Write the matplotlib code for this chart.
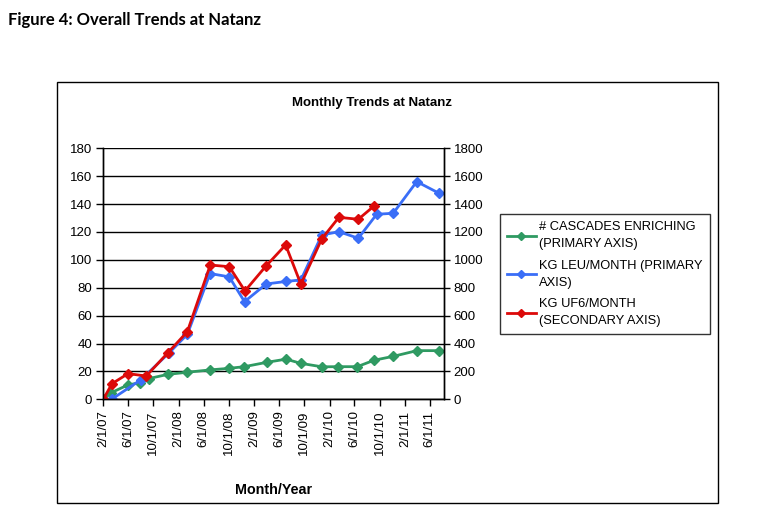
import matplotlib
matplotlib.use('Agg')
import matplotlib.pyplot as plt
from matplotlib.patches import Rectangle
import datetime as dt

plt.rcParams['font.family'] = 'Liberation Sans'

# data
cascade_dates = ['2007-02-01', '2007-03-11', '2007-05-31', '2007-07-30', '2007-09-08',
                 '2007-12-11', '2008-03-14', '2008-07-03', '2008-10-02', '2008-12-15',
                 '2009-04-02', '2009-07-05', '2009-09-14', '2009-12-26', '2010-03-15',
                 '2010-06-15', '2010-09-04', '2010-12-06', '2011-03-31', '2011-07-17']
cascades = [0, 4.7, 10.3, 11.9, 14.8, 17.9, 19.4, 21.1, 22.2, 23.4,
            26.5, 28.8, 25.8, 23.3, 23.4, 23.4, 28, 30.8, 34.9, 34.9]

leu_dates = ['2007-03-13', '2007-08-02', '2007-12-16', '2008-03-14', '2008-07-02',
             '2008-10-03', '2008-12-16', '2009-03-31', '2009-07-04', '2009-09-15',
             '2009-12-25', '2010-03-18', '2010-06-20', '2010-09-17', '2010-12-06',
             '2011-03-30', '2011-07-17']
leu = [0, 14, 33.2, 46.6, 90.2, 87.8, 70, 82.7, 84.5, 85.6,
       117.8, 120.2, 115.5, 132.7, 133.4, 156.1, 147.7]

uf6_dates = ['2007-02-01', '2007-03-15', '2007-06-01', '2007-08-28', '2007-12-11',
             '2008-03-14', '2008-07-03', '2008-10-03', '2008-12-18', '2009-03-30',
             '2009-07-03', '2009-09-15', '2009-12-25', '2010-03-18', '2010-06-20',
             '2010-09-04']
uf6 = [0, 112, 184, 167, 334, 485, 963, 951, 777, 956,
       1107, 825, 1150, 1305, 1291, 1386]

tick_dates = ['2007-02-01', '2007-06-01', '2007-10-01', '2008-02-01', '2008-06-01',
              '2008-10-01', '2009-02-01', '2009-06-01', '2009-10-01', '2010-02-01',
              '2010-06-01', '2010-10-01', '2011-02-01', '2011-06-01']

labels = ['# CASCADES ENRICHING\n(PRIMARY AXIS)',
          'KG LEU/MONTH (PRIMARY\nAXIS)',
          'KG UF6/MONTH\n(SECONDARY AXIS)']


def to_dates(lst):
    return [dt.datetime.strptime(s, '%Y-%m-%d') for s in lst]


green = '#2f9a62'
blue = '#3a6ef7'
red = '#dc0a0a'

fig = plt.figure(figsize=(7.61, 5.21), dpi=100)
W, H = 761, 521

# outer chart border
fig.patches.append(Rectangle((57.3 / W, 1 - 503 / H), (718 - 57.3) / W, (503 - 81.7) / H,
                             transform=fig.transFigure, fill=False, edgecolor='black', lw=1))

ax = fig.add_axes([103.3 / W, 1 - 399.3 / H, (444 - 103.3) / W, (399.3 - 148.3) / H])
ax2 = ax.twinx()

l1, = ax.plot(to_dates(cascade_dates), cascades, color=green, lw=2, marker='D', ms=5)
l2, = ax.plot(to_dates(leu_dates), leu, color=blue, lw=2, marker='D', ms=5)
l3, = ax2.plot(to_dates(uf6_dates), uf6, color=red, lw=2, marker='D', ms=5)

start = dt.datetime(2007, 2, 1)
ax.set_xlim(start, start + dt.timedelta(days=1650))
ax.set_ylim(0, 180)
ax2.set_ylim(0, 1800)
ax.set_yticks(range(0, 181, 20))
ax2.set_yticks(range(0, 1801, 200))

ticks = to_dates(tick_dates)
ax.set_xticks(ticks)
ax.set_xticklabels([f'{d.month}/{d.day}/{d:%y}' for d in ticks], rotation=90, fontsize=9.5)
ax.xaxis.set_minor_locator(plt.NullLocator())

ax.grid(axis='y', color='black', lw=1)
ax.set_axisbelow(True)
for a in (ax, ax2):
    for s in a.spines.values():
        s.set_linewidth(1)
ax.spines['top'].set_visible(False)
ax2.spines['top'].set_visible(False)
ax.tick_params(axis='y', labelsize=9.5, length=5, width=1, direction='out', pad=3)
ax.tick_params(axis='x', length=5, width=1, direction='out', pad=3)
ax2.tick_params(axis='y', labelsize=9.5, length=4, width=1, direction='out', pad=3)

fig.text(372 / W, 1 - 103 / H, 'Monthly Trends at Natanz', ha='center', va='center',
         fontsize=9.5, fontweight='bold')
fig.text(274 / W, 1 - 490.5 / H, 'Month/Year', ha='center', va='center',
         fontsize=10.3, fontweight='bold')
fig.text(8 / W, 1 - 20 / H, 'Figure 4: Overall Trends at Natanz', ha='left', va='center',
         fontsize=12, fontweight='bold', family='Lato')

leg = fig.legend([l1, l2, l3], labels, loc='upper left',
                 bbox_to_anchor=(500 / W, 1 - 214 / H), fontsize=9.3,
                 frameon=True, fancybox=False, edgecolor='black', handlelength=2.2,
                 borderpad=0.55, labelspacing=0.75, handletextpad=0.3, borderaxespad=0)
leg.get_frame().set_linewidth(1)
for t in leg.get_texts():
    t.set_linespacing(1.55)
for h in leg.legend_handles:
    h.set_markersize(4)

fig.savefig('out.png', dpi=100)
